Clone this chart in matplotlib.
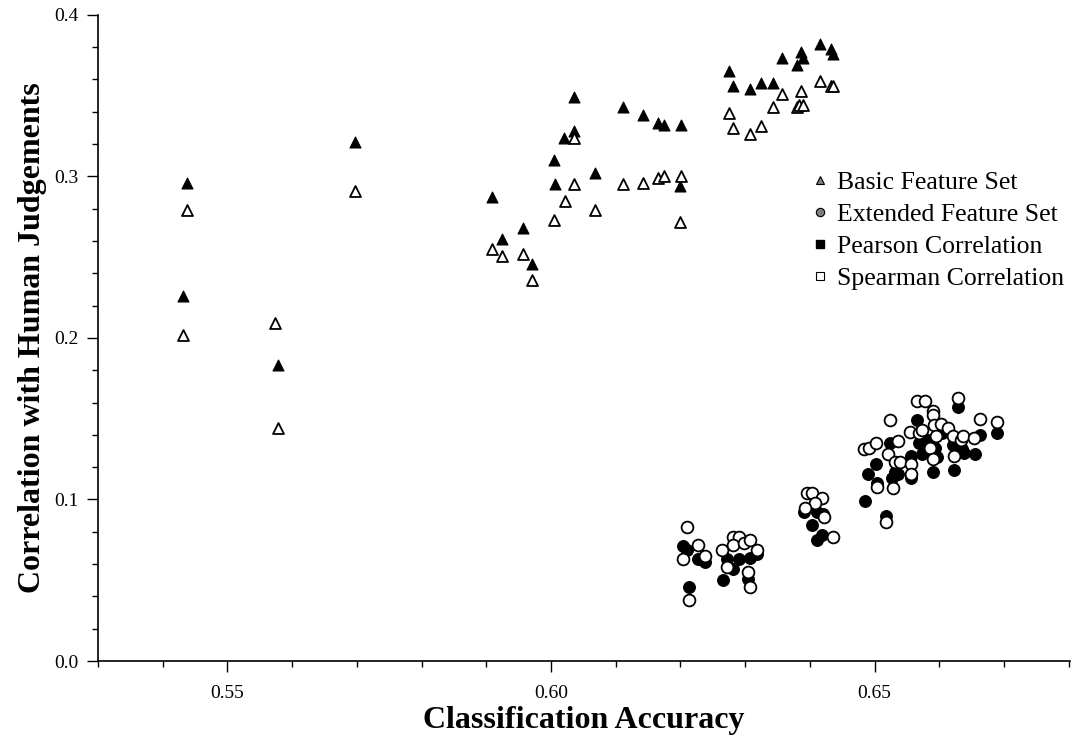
import matplotlib
matplotlib.use("Agg")
import matplotlib.pyplot as plt
from matplotlib.lines import Line2D
from matplotlib.ticker import MultipleLocator

plt.rcParams['font.family'] = ['Liberation Serif', 'DejaVu Serif']

# basic feature set (triangles)
basic_pearson_x = [0.5438, 0.5432, 0.5578, 0.5697, 0.5909, 0.5924, 0.5957, 0.5970,
                   0.6005, 0.6006, 0.6020, 0.6035, 0.6036, 0.6068, 0.6112, 0.6143,
                   0.6165, 0.6175, 0.6201, 0.6199, 0.6275, 0.6282, 0.6308, 0.6325,
                   0.6343, 0.6357, 0.6380, 0.6386, 0.6389, 0.6416, 0.6432, 0.6436]
basic_pearson_y = [0.296, 0.226, 0.183, 0.321, 0.287, 0.261, 0.268, 0.246,
                   0.310, 0.295, 0.324, 0.349, 0.328, 0.302, 0.343, 0.338,
                   0.333, 0.332, 0.332, 0.294, 0.365, 0.356, 0.354, 0.358,
                   0.358, 0.373, 0.369, 0.377, 0.373, 0.382, 0.379, 0.376]
basic_spearman_x = [0.5438, 0.5432, 0.5573, 0.5578, 0.5697, 0.5909, 0.5924, 0.5957,
                    0.5970, 0.6005, 0.6021, 0.6035, 0.6036, 0.6068, 0.6112, 0.6143,
                    0.6165, 0.6175, 0.6201, 0.6199, 0.6275, 0.6282, 0.6308, 0.6325,
                    0.6343, 0.6357, 0.6380, 0.6384, 0.6386, 0.6389, 0.6416, 0.6432,
                    0.6436]
basic_spearman_y = [0.279, 0.202, 0.209, 0.144, 0.291, 0.255, 0.251, 0.252,
                    0.236, 0.273, 0.285, 0.295, 0.324, 0.279, 0.295, 0.296,
                    0.299, 0.300, 0.300, 0.272, 0.339, 0.330, 0.326, 0.331,
                    0.343, 0.351, 0.343, 0.344, 0.353, 0.344, 0.359, 0.356,
                    0.356]

# extended feature set (circles)
ext_pearson_x = [0.6204, 0.6211, 0.6228, 0.6238, 0.6214, 0.6272, 0.6282, 0.6290,
                 0.6266, 0.6308, 0.6305, 0.6318,
                 0.6391, 0.6411, 0.6420, 0.6403, 0.6419, 0.6411,
                 0.6485, 0.6517, 0.6490, 0.6503, 0.6504, 0.6524, 0.6531, 0.6537,
                 0.6527, 0.6556, 0.6556, 0.6565, 0.6568, 0.6573, 0.6583, 0.6594,
                 0.6590, 0.6604, 0.6583, 0.6597, 0.6622, 0.6635, 0.6638, 0.6623,
                 0.6629, 0.6663, 0.6655, 0.6690]
ext_pearson_y = [0.071, 0.069, 0.063, 0.061, 0.046, 0.063, 0.057, 0.063,
                 0.050, 0.064, 0.051, 0.066,
                 0.092, 0.092, 0.091, 0.084, 0.078, 0.075,
                 0.099, 0.090, 0.116, 0.122, 0.110, 0.135, 0.117, 0.116,
                 0.113, 0.127, 0.113, 0.149, 0.135, 0.128, 0.133, 0.132,
                 0.117, 0.141, 0.137, 0.126, 0.134, 0.131, 0.129, 0.118,
                 0.157, 0.140, 0.128, 0.141]
ext_spearman_x = [0.6211, 0.6228, 0.6204, 0.6238, 0.6214, 0.6265, 0.6272, 0.6282,
                  0.6290, 0.6281, 0.6298, 0.6308, 0.6318, 0.6305, 0.6307,
                  0.6396, 0.6403, 0.6419, 0.6408, 0.6392, 0.6422, 0.6436,
                  0.6517, 0.6484, 0.6491, 0.6503, 0.6504, 0.6524, 0.6536, 0.6521,
                  0.6531, 0.6539, 0.6528, 0.6556, 0.6556, 0.6565, 0.6578, 0.6555,
                  0.6568, 0.6573, 0.6591, 0.6590, 0.6592, 0.6603, 0.6614, 0.6595,
                  0.6586, 0.6590, 0.6622, 0.6634, 0.6637, 0.6623, 0.6629, 0.6654,
                  0.6663, 0.6690]
ext_spearman_y = [0.083, 0.072, 0.063, 0.065, 0.038, 0.069, 0.058, 0.077,
                  0.077, 0.072, 0.073, 0.075, 0.069, 0.055, 0.046,
                  0.104, 0.104, 0.101, 0.098, 0.095, 0.089, 0.077,
                  0.086, 0.131, 0.132, 0.135, 0.108, 0.149, 0.136, 0.128,
                  0.123, 0.123, 0.107, 0.122, 0.116, 0.161, 0.161, 0.142,
                  0.141, 0.143, 0.155, 0.152, 0.146, 0.147, 0.144, 0.139,
                  0.132, 0.125, 0.139, 0.137, 0.139, 0.127, 0.163, 0.138,
                  0.150, 0.148]

fig = plt.figure(figsize=(10.8, 7.36), dpi=100)
ax = fig.add_axes([0.0907, 0.1019, 0.9, 0.878])

ms = 62
ax.scatter(basic_pearson_x, basic_pearson_y, s=ms, marker='^', c='black',
           edgecolors='black', linewidths=0.8, zorder=3)
ax.scatter(basic_spearman_x, basic_spearman_y, s=ms, marker='^', c='white',
           edgecolors='black', linewidths=1.3, zorder=4)
ax.scatter(ext_pearson_x, ext_pearson_y, s=ms + 10, marker='o', c='black',
           edgecolors='black', linewidths=0.8, zorder=3)
ax.scatter(ext_spearman_x, ext_spearman_y, s=ms + 10, marker='o', c='white',
           edgecolors='black', linewidths=1.3, zorder=4)

ax.set_xlim(0.53, 0.6802)
ax.set_ylim(0.0, 0.4)
ax.xaxis.set_major_locator(MultipleLocator(0.05))
ax.xaxis.set_minor_locator(MultipleLocator(0.01))
ax.yaxis.set_major_locator(MultipleLocator(0.1))
ax.yaxis.set_minor_locator(MultipleLocator(0.02))
ax.xaxis.set_major_formatter(plt.FuncFormatter(lambda v, p: f"{v:.2f}"))
ax.yaxis.set_major_formatter(plt.FuncFormatter(lambda v, p: f"{v:.1f}"))
ax.tick_params(which='major', direction='out', length=8, width=1, labelsize=14)
ax.tick_params(axis='x', which='major', pad=9)
ax.tick_params(axis='y', which='major', pad=6)
ax.tick_params(which='minor', direction='out', length=4, width=1)

for s in ['top', 'right']:
    ax.spines[s].set_visible(False)
for s in ['left', 'bottom']:
    ax.spines[s].set_linewidth(1.2)

ax.set_xlabel('Classification Accuracy', fontsize=23, fontweight='bold', labelpad=3)
ax.set_ylabel('Correlation with Human Judgements', fontsize=23, fontweight='bold', labelpad=5)

handles = [
    Line2D([], [], ls='', marker='^', markersize=6, markerfacecolor='#808080', markeredgecolor='black', markeredgewidth=0.8),
    Line2D([], [], ls='', marker='o', markersize=6, markerfacecolor='#808080', markeredgecolor='black', markeredgewidth=0.8),
    Line2D([], [], ls='', marker='s', markersize=6, markerfacecolor='black', markeredgecolor='black'),
    Line2D([], [], ls='', marker='s', markersize=6, markerfacecolor='white', markeredgecolor='black', markeredgewidth=0.8),
]
labels = ['Basic Feature Set', 'Extended Feature Set', 'Pearson Correlation', 'Spearman Correlation']
ax.legend(handles, labels, loc='upper left', bbox_to_anchor=(0.7335, 0.758), frameon=False,
          fontsize=18.5, handlelength=0.7, handletextpad=0.3, labelspacing=0.35,
          borderpad=0, borderaxespad=0)

fig.savefig('out.png', dpi=100)
